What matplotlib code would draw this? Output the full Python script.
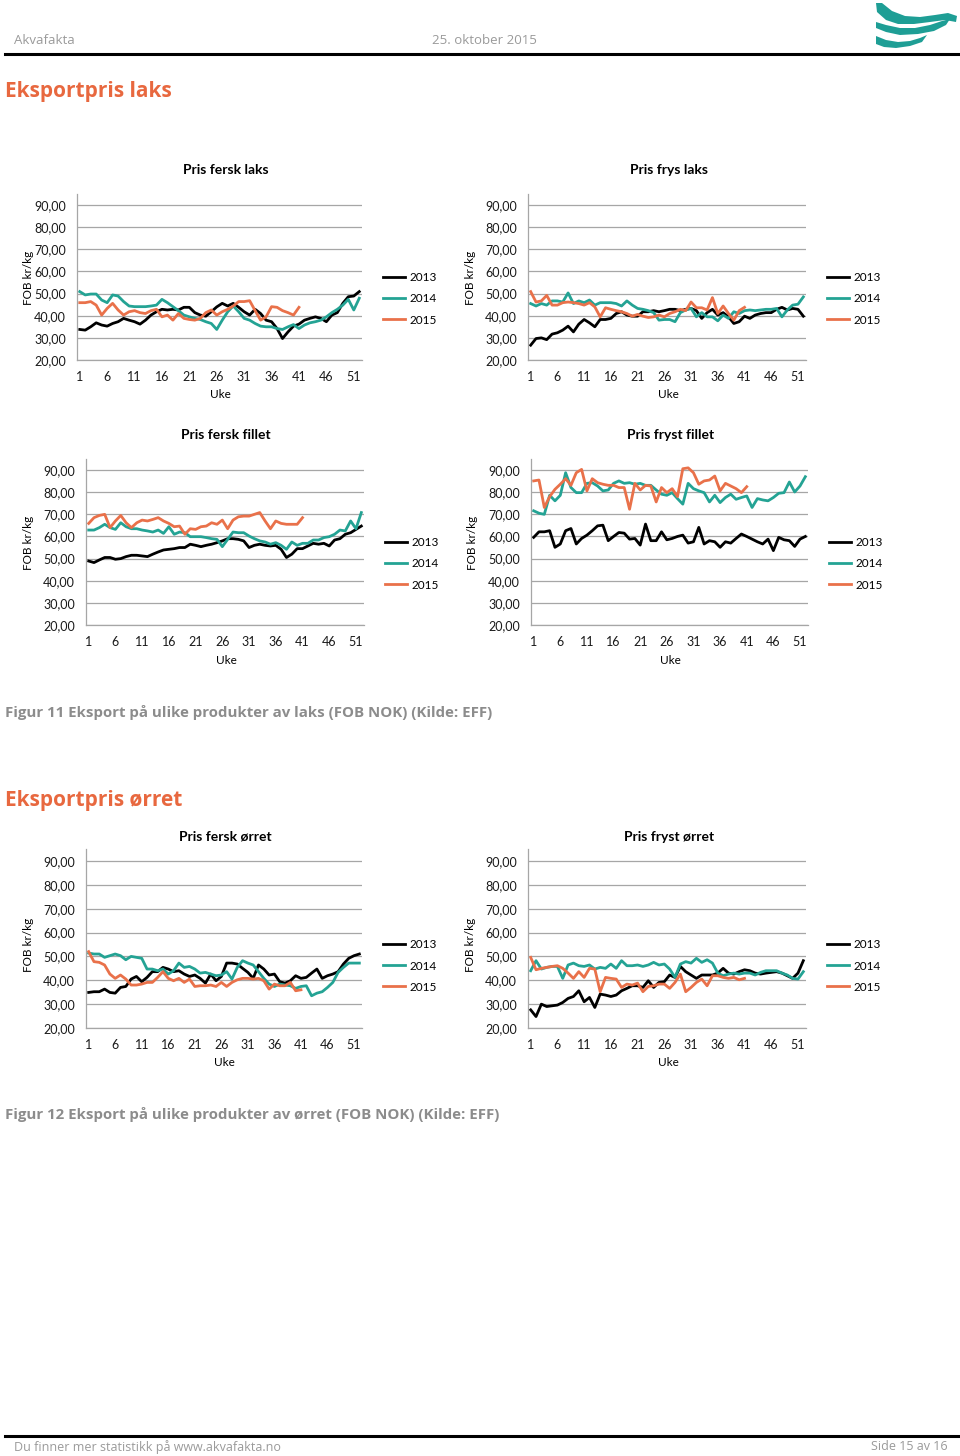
import matplotlib
matplotlib.use("Agg")
import matplotlib.pyplot as plt
from matplotlib.ticker import FixedLocator, FuncFormatter

W, H = 960, 1456

YEARS = ["2013", "2014", "2015"]
COLORS = ["#000000", "#24A394", "#E9714A"]
X_TICKS = [1, 6, 11, 16, 21, 26, 31, 36, 41, 46, 51]
Y_TICKS = [20, 30, 40, 50, 60, 70, 80, 90]

# Pris fersk laks (kr/kg per uke)
fersk_laks_2013 = [33.8, 33.5, 35.0, 36.8, 35.8, 35.3, 36.5, 37.3, 38.8, 38.0, 37.3, 36.2, 38.0,
                   40.3, 41.8, 42.9, 42.6, 42.9, 42.6, 43.8, 43.8, 41.4, 40.3, 39.8, 41.8, 44.0,
                   45.6, 44.4, 45.6, 43.8, 41.8, 40.3, 42.9, 41.0, 38.0, 37.3, 34.2, 29.7, 32.7,
                   35.3, 36.2, 38.0, 38.8, 39.5, 38.8, 37.3, 40.3, 41.4, 45.6, 48.6, 48.9, 50.9]
fersk_laks_2014 = [50.9, 49.4, 49.8, 49.8, 47.1, 45.9, 49.4, 48.9, 46.4, 44.4, 44.1, 44.1, 44.1,
                   44.4, 44.8, 47.4, 45.9, 44.1, 42.3, 40.3, 39.5, 38.8, 38.3, 37.3, 36.5, 33.8,
                   38.0, 41.8, 44.4, 41.8, 38.8, 38.0, 36.5, 35.3, 35.0, 35.0, 34.2, 33.8, 35.0,
                   36.0, 34.2, 35.8, 36.8, 37.3, 38.0, 39.5, 41.4, 42.9, 44.8, 47.4, 42.6, 47.9]
fersk_laks_2015 = [45.9, 45.9, 46.4, 44.8, 40.3, 43.3, 45.6, 42.6, 40.3, 41.8, 42.3, 41.4, 41.0,
                   42.3, 42.9, 39.5, 40.3, 38.0, 41.0, 38.8, 38.3, 38.0, 38.8, 41.4, 42.6, 40.3,
                   41.8, 42.9, 44.4, 46.4, 46.4, 46.8, 42.3, 38.0, 39.5, 44.1, 43.8, 42.3, 41.4,
                   40.3, 43.8]

# Pris frys laks
frys_laks_2013 = [26.7, 29.7, 30.0, 29.2, 31.7, 32.3, 33.5, 35.3, 32.7, 36.2, 38.3, 36.8, 35.0,
                  38.3, 38.3, 38.8, 41.0, 41.8, 40.3, 39.8, 39.8, 41.8, 41.8, 42.3, 41.8, 42.3,
                  42.9, 42.9, 42.3, 42.9, 43.3, 42.3, 38.8, 41.4, 42.9, 40.3, 41.4, 39.5, 36.5,
                  37.3, 39.8, 38.8, 40.3, 41.0, 41.4, 41.4, 42.9, 43.8, 42.6, 43.3, 42.9, 39.8]
frys_laks_2014 = [45.5, 44.4, 45.5, 44.8, 46.7, 46.7, 46.2, 50.3, 45.5, 46.7, 45.9, 47.1, 44.8,
                  45.9, 45.9, 45.9, 45.5, 44.4, 46.7, 44.8, 43.3, 42.9, 42.3, 41.4, 38.0, 38.3,
                  38.3, 37.3, 41.4, 42.6, 43.3, 39.5, 41.4, 39.5, 39.5, 37.7, 40.3, 38.8, 41.8,
                  41.0, 42.3, 42.6, 42.3, 42.6, 42.9, 42.9, 43.3, 39.5, 42.6, 44.8, 45.2, 48.5]
frys_laks_2015 = [50.9, 46.2, 46.7, 49.2, 44.8, 44.8, 45.9, 46.2, 45.9, 45.5, 44.8, 45.9, 44.0,
                  39.5, 43.6, 42.9, 42.3, 41.8, 41.0, 39.8, 40.6, 39.8, 39.2, 39.5, 40.3, 39.5,
                  41.0, 41.8, 42.9, 42.3, 46.2, 43.6, 43.6, 42.6, 48.2, 41.0, 44.4, 41.0, 38.0,
                  42.3, 43.8]

# Pris fersk fillet
fersk_fillet_2013 = [48.9, 48.2, 49.4, 50.5, 50.5, 49.7, 50.0, 50.9, 51.5, 51.5, 51.2, 50.9, 52.0,
                     53.0, 53.9, 54.2, 54.5, 55.0, 55.0, 56.5, 56.0, 55.4, 56.0, 56.5, 57.2, 58.0,
                     59.0, 59.0, 58.7, 58.0, 55.0, 56.0, 56.5, 56.0, 55.7, 56.0, 54.2, 50.5, 52.0,
                     54.5, 54.5, 55.7, 56.9, 56.5, 56.9, 55.7, 58.4, 59.0, 61.0, 61.7, 63.2, 64.7]
fersk_fillet_2014 = [62.9, 62.9, 64.0, 65.5, 64.0, 63.2, 66.2, 64.4, 63.5, 63.5, 62.9, 62.5, 62.0,
                     62.9, 61.4, 64.4, 61.0, 62.0, 61.7, 59.9, 59.9, 59.9, 59.5, 59.0, 58.7, 55.4,
                     58.7, 62.0, 61.7, 61.7, 60.2, 59.0, 58.0, 57.5, 56.5, 57.2, 56.0, 54.2, 57.5,
                     56.0, 56.9, 56.9, 58.4, 58.4, 59.5, 59.9, 61.0, 62.9, 62.5, 67.0, 63.5, 70.8]
fersk_fillet_2015 = [65.9, 68.5, 69.5, 70.0, 64.0, 67.0, 69.5, 66.2, 64.0, 66.2, 67.4, 67.0, 67.7,
                     68.5, 67.0, 65.9, 64.4, 64.7, 61.0, 63.5, 63.2, 64.4, 64.7, 66.2, 65.5, 67.4,
                     63.5, 67.4, 68.9, 69.2, 69.2, 70.0, 70.8, 67.0, 63.5, 67.0, 65.9, 65.5, 65.5,
                     65.5, 68.5]

# Pris fryst fillet
fryst_fillet_2013 = [59.6, 62.1, 62.1, 62.6, 55.1, 56.6, 62.6, 63.6, 56.6, 59.1, 60.6, 62.6, 64.8,
                     65.1, 58.1, 60.0, 61.8, 61.5, 58.8, 59.1, 56.1, 65.6, 58.1, 58.1, 62.1, 58.5,
                     59.1, 60.0, 60.6, 57.0, 57.6, 64.1, 56.6, 58.1, 57.6, 55.1, 57.6, 57.0, 59.1,
                     61.1, 60.0, 58.8, 57.6, 56.6, 58.8, 53.6, 59.6, 58.5, 58.1, 55.5, 58.8, 60.0]
fryst_fillet_2014 = [71.6, 70.5, 70.0, 78.6, 76.1, 78.6, 88.8, 82.1, 79.8, 79.8, 84.0, 84.3, 82.8,
                     80.6, 81.0, 84.0, 85.1, 84.0, 84.3, 83.6, 84.0, 83.1, 83.1, 81.0, 79.1, 78.6,
                     79.8, 77.1, 74.6, 84.0, 81.6, 80.6, 79.8, 75.6, 78.6, 75.3, 77.6, 79.1, 76.8,
                     77.6, 78.3, 73.1, 77.1, 76.5, 76.1, 77.6, 79.5, 79.8, 84.6, 80.1, 82.8, 87.0]
fryst_fillet_2015 = [85.1, 85.5, 73.1, 78.0, 81.3, 83.6, 86.1, 83.1, 88.8, 90.3, 80.6, 86.1, 84.3,
                     83.6, 83.1, 83.1, 82.1, 82.1, 72.3, 84.0, 81.0, 83.1, 82.8, 75.6, 82.1, 79.8,
                     81.6, 78.0, 90.6, 91.0, 88.8, 83.6, 85.1, 85.5, 87.3, 80.6, 84.0, 82.8, 81.6,
                     79.8, 82.5]

# Pris fersk ørret
fersk_orret_2013 = [34.9, 35.2, 35.2, 36.3, 34.9, 34.6, 37.0, 37.4, 40.5, 41.6, 39.4, 41.2, 43.6,
                    43.6, 45.4, 44.7, 43.6, 44.0, 42.6, 41.6, 42.2, 40.8, 38.8, 42.6, 39.8, 41.6,
                    47.2, 47.2, 46.8, 45.0, 43.3, 40.8, 46.4, 44.7, 42.2, 42.6, 39.4, 38.8, 39.8,
                    41.9, 40.8, 41.2, 43.0, 44.7, 40.8, 41.9, 42.6, 43.6, 46.8, 49.2, 50.3, 51.0]
fersk_orret_2014 = [51.4, 51.0, 51.0, 49.6, 50.3, 51.0, 50.3, 48.6, 50.0, 49.6, 49.2, 44.7, 44.7,
                    44.0, 44.7, 42.6, 44.0, 47.2, 45.4, 45.8, 44.7, 43.0, 43.3, 42.6, 41.9, 42.2,
                    43.6, 40.5, 45.4, 48.2, 47.2, 46.4, 43.6, 40.8, 38.4, 37.4, 38.4, 38.0, 37.7,
                    36.6, 37.4, 37.7, 33.5, 34.6, 35.2, 37.0, 39.1, 43.3, 45.4, 47.2, 47.2, 47.2]
fersk_orret_2015 = [52.0, 47.8, 47.5, 46.4, 42.6, 40.8, 42.2, 40.5, 38.0, 38.0, 38.4, 39.1, 39.1,
                    41.2, 43.6, 40.8, 39.8, 40.8, 39.1, 40.5, 37.4, 37.7, 37.7, 38.0, 37.4, 39.1,
                    37.4, 39.1, 40.2, 40.8, 40.8, 40.5, 40.8, 39.8, 36.3, 38.4, 37.7, 37.7, 39.1,
                    35.6, 36.0]

# Pris fryst ørret
fryst_orret_2013 = [27.6, 24.8, 30.0, 29.0, 29.3, 29.6, 30.7, 32.4, 33.2, 35.6, 31.0, 32.8, 28.6,
                    34.2, 33.8, 33.2, 33.8, 35.6, 36.6, 37.7, 37.7, 37.0, 39.8, 37.0, 39.1, 39.4,
                    42.2, 41.2, 45.8, 43.6, 42.2, 40.8, 42.2, 42.2, 42.2, 43.0, 45.0, 43.0, 42.6,
                    43.6, 44.4, 44.0, 43.0, 42.6, 43.0, 43.3, 43.6, 43.0, 41.9, 40.8, 43.0, 48.2]
fryst_orret_2014 = [44.0, 48.2, 44.7, 45.4, 45.8, 45.8, 40.8, 46.4, 47.2, 46.1, 45.8, 46.4, 44.7,
                    45.4, 45.0, 46.8, 45.0, 48.2, 46.1, 46.1, 46.4, 45.8, 46.4, 47.5, 46.4, 46.8,
                    44.7, 41.2, 46.8, 47.8, 47.2, 49.2, 47.5, 48.6, 47.2, 43.0, 41.9, 42.6, 43.0,
                    42.6, 43.0, 43.0, 42.2, 43.3, 44.0, 44.0, 44.0, 43.0, 42.2, 40.8, 40.5, 43.6]
fryst_orret_2015 = [49.6, 44.4, 45.0, 45.4, 45.8, 46.1, 45.0, 43.0, 40.8, 43.6, 41.2, 45.0, 44.7,
                    35.2, 41.2, 40.8, 40.5, 37.0, 38.4, 38.0, 38.8, 35.2, 37.4, 37.7, 38.4, 38.4,
                    36.6, 39.1, 42.6, 35.2, 37.0, 39.1, 40.5, 37.7, 41.9, 41.9, 41.2, 40.8, 41.2,
                    40.2, 40.8]

TITLES = ["Pris fersk laks", "Pris frys laks", "Pris fersk fillet",
          "Pris fryst fillet", "Pris fersk ørret", "Pris fryst ørret"]
SERIES = [
    (fersk_laks_2013, fersk_laks_2014, fersk_laks_2015),
    (frys_laks_2013, frys_laks_2014, frys_laks_2015),
    (fersk_fillet_2013, fersk_fillet_2014, fersk_fillet_2015),
    (fryst_fillet_2013, fryst_fillet_2014, fryst_fillet_2015),
    (fersk_orret_2013, fersk_orret_2014, fersk_orret_2015),
    (fryst_orret_2013, fryst_orret_2014, fryst_orret_2015),
]

# layout in page pixels: axes box, title, y label, x label, legend anchor
LAYOUT = [
    dict(box=(77, 194, 362, 360), title=(226, 170), ylab=(28, 278), xlab=(220, 395), leg=(383, 299)),
    dict(box=(528, 194, 806, 360), title=(669, 170), ylab=(471, 278), xlab=(668, 395), leg=(827, 299)),
    dict(box=(86, 459, 364, 625), title=(226, 435), ylab=(28, 543), xlab=(226, 661), leg=(385, 564)),
    dict(box=(531, 459, 808, 625), title=(671, 435), ylab=(473, 543), xlab=(670, 661), leg=(829, 564)),
    dict(box=(86, 849, 362, 1028), title=(225, 837), ylab=(28, 945), xlab=(224, 1063), leg=(383, 966)),
    dict(box=(528, 849, 806, 1028), title=(669, 837), ylab=(471, 945), xlab=(668, 1063), leg=(827, 966)),
]

CHART_FONT = "Lato"
PAGE_FONT = "Open Sans"


def fx(x):
    return x / W


def fy(y):
    return 1 - y / H


def draw_chart(fig, title, series, lay):
    left, top, right, bottom = lay["box"]
    ax = fig.add_axes([fx(left), fy(bottom), (right - left) / W, (bottom - top) / H])
    for values, year, color in zip(series, YEARS, COLORS):
        weeks = range(1, len(values) + 1)
        ax.plot(weeks, values, color=color, lw=2.0, label=year, solid_joinstyle="round")
    ax.set_xlim(0.5, 52.5)
    ax.set_ylim(20, 95)
    ax.xaxis.set_major_locator(FixedLocator(X_TICKS))
    ax.yaxis.set_major_locator(FixedLocator(Y_TICKS))
    ax.yaxis.set_major_formatter(FuncFormatter(lambda v, _: f"{v:.2f}".replace(".", ",")))
    ax.tick_params(length=0, labelsize=9, colors="#1a1a1a")
    ax.tick_params(axis="y", pad=8)
    ax.tick_params(axis="x", pad=8)
    for lab in ax.get_xticklabels() + ax.get_yticklabels():
        lab.set_family(CHART_FONT)
    ax.grid(axis="y", color="#a6a6a6", lw=0.9)
    ax.set_axisbelow(True)
    for side in ("top", "right"):
        ax.spines[side].set_visible(False)
    for side in ("left", "bottom"):
        ax.spines[side].set_color("#a6a6a6")
        ax.spines[side].set_linewidth(0.9)

    fig.text(fx(lay["title"][0]), fy(lay["title"][1]), title, ha="center", va="center",
             fontsize=10, fontweight="bold", family=CHART_FONT)
    fig.text(fx(lay["ylab"][0]), fy(lay["ylab"][1]), "FOB kr/kg", ha="center", va="center",
             rotation=90, fontsize=8.5, family=CHART_FONT)
    fig.text(fx(lay["xlab"][0]), fy(lay["xlab"][1]), "Uke", ha="center", va="center",
             fontsize=8.5, family=CHART_FONT)
    ax.legend(loc="center left", bbox_to_anchor=(fx(lay["leg"][0]), fy(lay["leg"][1])),
              bbox_transform=fig.transFigure, frameon=False, borderpad=0, borderaxespad=0,
              handlelength=1.9, handletextpad=0.35, labelspacing=0.85,
              prop={"family": CHART_FONT, "size": 8.5})


def main():
    fig = plt.figure(figsize=(W / 100, H / 100), dpi=100, facecolor="white")

    # page furniture drawn in pixel coordinates
    page = fig.add_axes([0, 0, 1, 1])
    page.set_xlim(0, W)
    page.set_ylim(H, 0)
    page.axis("off")
    page.plot([5, 958], [54, 54], color="black", lw=2.2)
    page.plot([5, 958], [1436, 1436], color="black", lw=2.2)

    # logo: three teal swooshes
    teal = "#1E9E95"
    page.fill([876, 882, 892, 905, 920, 935, 948, 957, 956, 945, 930, 914, 898, 886, 877],
              [3, 3, 11, 16, 17, 15, 13, 16, 22, 20, 22, 24, 24, 20, 12], color=teal, lw=0)
    page.fill([876, 886, 900, 915, 930, 942, 950, 946, 934, 918, 900, 886, 876],
              [22, 25, 28, 28, 25, 21, 19, 25, 31, 34, 35, 32, 28], color=teal, lw=0)
    page.fill([876, 886, 898, 910, 920, 927, 922, 910, 896, 884, 876],
              [36, 40, 42, 41, 38, 35, 42, 46, 48, 47, 44], color=teal, lw=0)

    fig.text(fx(14), fy(40), "Akvafakta", ha="left", va="center", fontsize=9.5,
             color="#9a9a9a", family=PAGE_FONT)
    fig.text(fx(432), fy(40), "25. oktober 2015", ha="left", va="center", fontsize=9.5,
             color="#9a9a9a", family=PAGE_FONT)
    fig.text(fx(5), fy(92), "Eksportpris laks", ha="left", va="center", fontsize=15,
             fontweight="bold", color="#E8683F", family=PAGE_FONT)
    fig.text(fx(5), fy(800), "Eksportpris ørret", ha="left", va="center", fontsize=15,
             fontweight="bold", color="#E8683F", family=PAGE_FONT)
    fig.text(fx(5), fy(713), "Figur 11 Eksport på ulike produkter av laks (FOB NOK) (Kilde: EFF)",
             ha="left", va="center", fontsize=10.8, fontweight="bold", color="#8c8c8c",
             family=PAGE_FONT)
    fig.text(fx(5), fy(1115), "Figur 12 Eksport på ulike produkter av ørret (FOB NOK) (Kilde: EFF)",
             ha="left", va="center", fontsize=10.8, fontweight="bold", color="#8c8c8c",
             family=PAGE_FONT)
    fig.text(fx(14), fy(1447), "Du finner mer statistikk på www.akvafakta.no", ha="left",
             va="center", fontsize=9, color="#9a9a9a", family=PAGE_FONT)
    fig.text(fx(948), fy(1447), "Side 15 av 16", ha="right", va="center", fontsize=9,
             color="#9a9a9a", family=PAGE_FONT)

    for title, series, lay in zip(TITLES, SERIES, LAYOUT):
        draw_chart(fig, title, series, lay)

    fig.savefig("out.png", dpi=100, facecolor="white")


if __name__ == "__main__":
    main()
